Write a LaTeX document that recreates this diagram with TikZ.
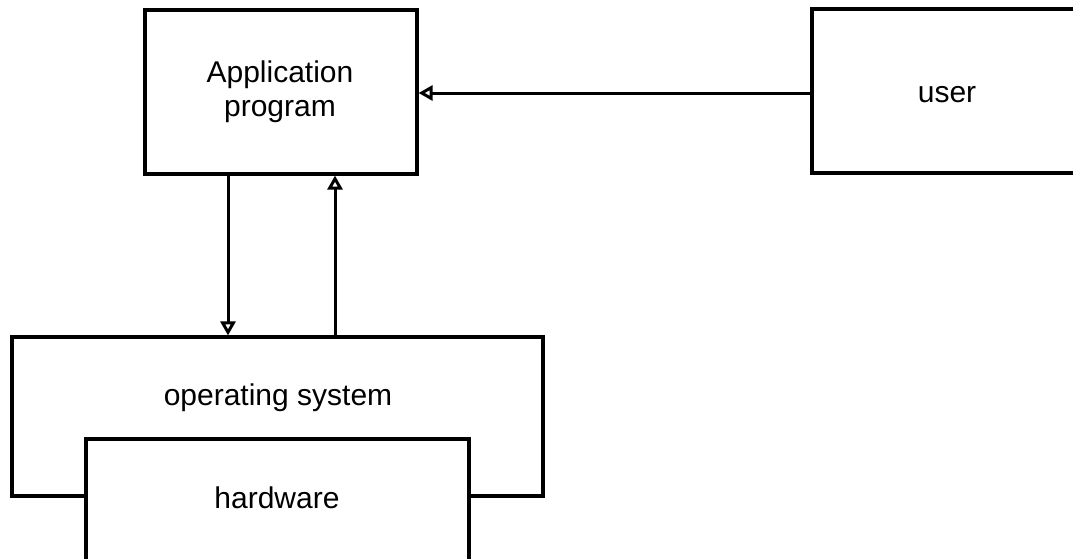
\documentclass[tikz,border=0pt]{standalone}
\usepackage{fontspec}
\setmainfont{Liberation Sans}
\usetikzlibrary{arrows.meta}
\begin{document}
\begin{tikzpicture}[x=1pt,y=-1pt,
  box/.style={draw=black, line width=3.2pt, fill=white, rectangle, inner sep=0pt},
  lbl/.style={font=\fontsize{30}{34}\selectfont, align=center, inner sep=0pt},
  arr/.style={draw=black, line width=3pt, -{Triangle[open, length=14pt, width=15pt, line width=3pt]}}]
\useasboundingbox (0,0) rectangle (1073,558);
\fill[white] (0,0) rectangle (1073,558);
% boxes
\node[box, minimum width=272pt, minimum height=164pt] (app) at (281,92) {};
\node[box, minimum width=280pt, minimum height=164pt] (user) at (952,91) {};
\node[box, minimum width=531pt, minimum height=159pt] (os) at (277.5,416.5) {};
\node[box, minimum width=383pt, minimum height=140pt] (hw) at (277.5,509) {};
% labels
\node[lbl] (apptext) at (280,92) {Application\\program};
\node[lbl, anchor=base] (usertext) at (947,102) {user};
\node[lbl, anchor=base] (ostext) at (278,405) {operating system};
\node[lbl, anchor=base] (hwtext) at (277,508) {hardware};
% connectors
\coordinate (dx) at (228,0);
\coordinate (ux) at (335,0);
\coordinate (hy) at (0,93);
\draw[arr] (user.west |- hy) -- (app.east |- hy);
\draw[arr] (app.south -| dx) -- (os.north -| dx);
\draw[arr] (os.north -| ux) -- (app.south -| ux);
\end{tikzpicture}
\end{document}
